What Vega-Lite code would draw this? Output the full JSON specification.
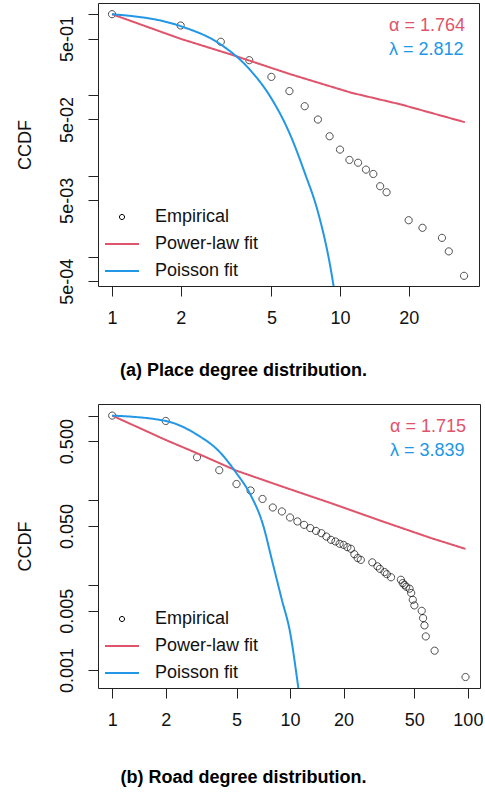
{
  "$schema": "https://vega.github.io/schema/vega-lite/v6.json",
  "background": "white",
  "padding": {"left": 15, "top": 2, "right": 0, "bottom": 0},
  "spacing": 22,
  "config": {
    "font": "Liberation Sans",
    "view": {"stroke": "#222222", "strokeWidth": 1},
    "axis": {
      "domain": false, "grid": false,
      "tickColor": "#222222", "tickSize": 10, "tickWidth": 1,
      "labelFont": "Liberation Sans", "labelFontSize": 18, "labelColor": "#111111",
      "labelOverlap": false, "labelFlush": false, "labelBound": false,
      "titleFont": "Liberation Sans", "titleFontSize": 18, "titleFontWeight": "normal", "titleColor": "#111111"
    },
    "legend": {"labelFont": "Liberation Sans", "labelColor": "#111111"},
    "title": {"font": "Liberation Sans", "fontSize": 18, "fontWeight": "bold", "color": "#000000"}
  },
  "resolve": {
    "scale": {"x": "independent", "y": "independent", "color": "independent", "shape": "independent", "strokeDash": "independent"},
    "legend": {"color": "independent", "shape": "independent", "strokeDash": "independent"}
  },
  "vconcat": [
    {
      "width": 381,
      "height": 283,
      "title": {"text": "(a) Place degree distribution.", "orient": "bottom", "anchor": "middle", "frame": "bounds", "offset": 35, "dx": -4},
      "encoding": {
        "x": {"field": "k", "type": "quantitative",
          "scale": {"type": "log", "domain": [0.868, 40.7], "nice": false, "zero": false},
          "axis": {"values": [1, 2, 5, 10, 20], "title": null, "labelPadding": 13, "labelExpr": "datum.value + ''"}},
        "y": {"field": "p", "type": "quantitative",
          "scale": {"type": "log", "domain": [0.000437, 1.375], "nice": false, "zero": false},
          "axis": {"values": [1, 0.5, 0.1, 0.05, 0.01, 0.005, 0.001, 0.0005], "title": "CCDF",
            "labelAngle": 270, "labelAlign": "center", "labelBaseline": "bottom", "labelPadding": 12, "titlePadding": 24,
            "labelExpr": "datum.value == 0.5 ? '5e-01' : datum.value == 0.05 ? '5e-02' : datum.value == 0.005 ? '5e-03' : datum.value == 0.0005 ? '5e-04' : ''"}},
        "color": {"field": "series", "type": "nominal",
          "scale": {"domain": ["Empirical", "Power-law fit", "Poisson fit"], "range": ["#000000", "#DF536B", "#2297E6"]},
          "legend": {"title": null, "orient": "bottom-left", "offset": 6, "padding": 0, "symbolSize": 1156, "labelFontSize": 18, "labelOffset": 15, "rowPadding": -11,
            "encode": {"symbols": {"update": {"strokeWidth": {"signal": "(datum.value === 'Empirical' ? 1 : 2)"}}}}}}
      },
      "layer": [
        {
          "data": {"values": [
            {"series": "Empirical", "k": 1, "p": 1},
            {"series": "Empirical", "k": 2, "p": 0.725},
            {"series": "Empirical", "k": 3, "p": 0.456},
            {"series": "Empirical", "k": 4, "p": 0.27},
            {"series": "Empirical", "k": 5, "p": 0.168},
            {"series": "Empirical", "k": 6, "p": 0.112},
            {"series": "Empirical", "k": 7, "p": 0.0729},
            {"series": "Empirical", "k": 8, "p": 0.0499},
            {"series": "Empirical", "k": 9, "p": 0.031},
            {"series": "Empirical", "k": 10, "p": 0.0212},
            {"series": "Empirical", "k": 11, "p": 0.0158},
            {"series": "Empirical", "k": 12, "p": 0.0146},
            {"series": "Empirical", "k": 13, "p": 0.012},
            {"series": "Empirical", "k": 14, "p": 0.0106},
            {"series": "Empirical", "k": 15, "p": 0.00748},
            {"series": "Empirical", "k": 16, "p": 0.0063},
            {"series": "Empirical", "k": 20, "p": 0.00284},
            {"series": "Empirical", "k": 23, "p": 0.00229},
            {"series": "Empirical", "k": 28, "p": 0.00172},
            {"series": "Empirical", "k": 30, "p": 0.00117},
            {"series": "Empirical", "k": 35, "p": 0.000584}
          ]},
          "mark": {"type": "point", "filled": false, "strokeWidth": 1, "size": 2300},
          "encoding": {
            "shape": {"field": "series", "type": "nominal",
              "scale": {"domain": ["Empirical", "Power-law fit", "Poisson fit"], "range": ["M0.15,0A0.15,0.15 0 1 1 -0.15,0A0.15,0.15 0 1 1 0.15,0Z", "stroke", "stroke"]}}
          }
        },
        {
          "data": {"values": [
            {"series": "Power-law fit", "param": "α = 1.764", "k": 1, "p": 1},
            {"series": "Power-law fit", "param": "α = 1.764", "k": 2, "p": 0.496},
            {"series": "Power-law fit", "param": "α = 1.764", "k": 3.32, "p": 0.318},
            {"series": "Power-law fit", "param": "α = 1.764", "k": 6.1, "p": 0.18},
            {"series": "Power-law fit", "param": "α = 1.764", "k": 11.2, "p": 0.107},
            {"series": "Power-law fit", "param": "α = 1.764", "k": 18.5, "p": 0.0766},
            {"series": "Power-law fit", "param": "α = 1.764", "k": 35.3, "p": 0.0462}
          ]},
          "mark": {"type": "line", "strokeWidth": 2, "clip": true},
          "encoding": {
            "strokeDash": {"field": "param", "type": "nominal",
              "scale": {"domain": ["α = 1.764", "λ = 2.812"], "range": [[1, 0], [1, 0]]},
              "legend": {"title": null, "orient": "top-right", "offset": 14, "padding": 0, "symbolSize": 0, "symbolOpacity": 0, "labelOffset": 0, "labelFontSize": 18, "rowPadding": 6,
                "encode": {"labels": {"update": {"fill": {"signal": "datum.index === 0 ? '#DF536B' : '#2297E6'"}}}}}}
          }
        },
        {
          "data": {"values": [
            {"series": "Poisson fit", "param": "λ = 2.812", "k": 1, "p": 1},
            {"series": "Poisson fit", "param": "λ = 2.812", "k": 2, "p": 0.711},
            {"series": "Poisson fit", "param": "λ = 2.812", "k": 3, "p": 0.422},
            {"series": "Poisson fit", "param": "λ = 2.812", "k": 4, "p": 0.21},
            {"series": "Poisson fit", "param": "λ = 2.812", "k": 5, "p": 0.091},
            {"series": "Poisson fit", "param": "λ = 2.812", "k": 6, "p": 0.034},
            {"series": "Poisson fit", "param": "λ = 2.812", "k": 7, "p": 0.011},
            {"series": "Poisson fit", "param": "λ = 2.812", "k": 8, "p": 0.0036},
            {"series": "Poisson fit", "param": "λ = 2.812", "k": 9, "p": 0.00085},
            {"series": "Poisson fit", "param": "λ = 2.812", "k": 10, "p": 0.00013}
          ]},
          "mark": {"type": "line", "strokeWidth": 2, "clip": true, "interpolate": "monotone"},
          "encoding": {
            "strokeDash": {"field": "param", "type": "nominal",
              "scale": {"domain": ["α = 1.764", "λ = 2.812"], "range": [[1, 0], [1, 0]]}}
          }
        }
      ]
    },
    {
      "width": 382,
      "height": 284,
      "title": {"text": "(b) Road degree distribution.", "orient": "bottom", "anchor": "middle", "frame": "bounds", "offset": 40, "dx": -6},
      "encoding": {
        "x": {"field": "k", "type": "quantitative",
          "scale": {"type": "log", "domain": [0.832, 117], "nice": false, "zero": false},
          "axis": {"values": [1, 2, 5, 10, 20, 50, 100], "title": null, "labelPadding": 13, "labelExpr": "datum.value + ''"}},
        "y": {"field": "p", "type": "quantitative",
          "scale": {"type": "log", "domain": [0.000614, 1.37], "nice": false, "zero": false},
          "axis": {"values": [1, 0.5, 0.1, 0.05, 0.01, 0.005, 0.001], "title": "CCDF",
            "labelAngle": 270, "labelAlign": "center", "labelBaseline": "bottom", "labelPadding": 12, "titlePadding": 24,
            "labelExpr": "datum.value == 0.5 ? '0.500' : datum.value == 0.05 ? '0.050' : datum.value == 0.005 ? '0.005' : datum.value == 0.001 ? '0.001' : ''"}},
        "color": {"field": "series", "type": "nominal",
          "scale": {"domain": ["Empirical", "Power-law fit", "Poisson fit"], "range": ["#000000", "#DF536B", "#2297E6"]},
          "legend": {"title": null, "orient": "bottom-left", "offset": 6, "padding": 0, "symbolSize": 1156, "labelFontSize": 18, "labelOffset": 15, "rowPadding": -11,
            "encode": {"symbols": {"update": {"strokeWidth": {"signal": "(datum.value === 'Empirical' ? 1 : 2)"}}}}}}
      },
      "layer": [
        {
          "data": {"values": [
            {"series": "Empirical", "k": 1, "p": 1},
            {"series": "Empirical", "k": 2, "p": 0.864},
            {"series": "Empirical", "k": 3, "p": 0.323},
            {"series": "Empirical", "k": 4, "p": 0.227},
            {"series": "Empirical", "k": 5, "p": 0.156},
            {"series": "Empirical", "k": 6, "p": 0.131},
            {"series": "Empirical", "k": 7, "p": 0.104},
            {"series": "Empirical", "k": 8, "p": 0.0825},
            {"series": "Empirical", "k": 9, "p": 0.0741},
            {"series": "Empirical", "k": 10, "p": 0.0629},
            {"series": "Empirical", "k": 11, "p": 0.0565},
            {"series": "Empirical", "k": 12, "p": 0.0515},
            {"series": "Empirical", "k": 13, "p": 0.0472},
            {"series": "Empirical", "k": 14, "p": 0.0437},
            {"series": "Empirical", "k": 15, "p": 0.0411},
            {"series": "Empirical", "k": 16, "p": 0.0375},
            {"series": "Empirical", "k": 17, "p": 0.0343},
            {"series": "Empirical", "k": 18, "p": 0.0328},
            {"series": "Empirical", "k": 19, "p": 0.0308},
            {"series": "Empirical", "k": 20, "p": 0.0299},
            {"series": "Empirical", "k": 21, "p": 0.0281},
            {"series": "Empirical", "k": 22, "p": 0.0269},
            {"series": "Empirical", "k": 23, "p": 0.0232},
            {"series": "Empirical", "k": 24, "p": 0.0209},
            {"series": "Empirical", "k": 25, "p": 0.0199},
            {"series": "Empirical", "k": 29, "p": 0.0186},
            {"series": "Empirical", "k": 31, "p": 0.0167},
            {"series": "Empirical", "k": 32, "p": 0.0156},
            {"series": "Empirical", "k": 34, "p": 0.0143},
            {"series": "Empirical", "k": 35, "p": 0.0135},
            {"series": "Empirical", "k": 37, "p": 0.0124},
            {"series": "Empirical", "k": 42, "p": 0.0116},
            {"series": "Empirical", "k": 43, "p": 0.0106},
            {"series": "Empirical", "k": 44, "p": 0.0101},
            {"series": "Empirical", "k": 45, "p": 0.0096},
            {"series": "Empirical", "k": 47, "p": 0.0091},
            {"series": "Empirical", "k": 48, "p": 0.0081},
            {"series": "Empirical", "k": 49, "p": 0.00673},
            {"series": "Empirical", "k": 50, "p": 0.00578},
            {"series": "Empirical", "k": 55, "p": 0.00499},
            {"series": "Empirical", "k": 56, "p": 0.00409},
            {"series": "Empirical", "k": 57, "p": 0.00336},
            {"series": "Empirical", "k": 58, "p": 0.00249},
            {"series": "Empirical", "k": 65, "p": 0.00169},
            {"series": "Empirical", "k": 97, "p": 0.000827}
          ]},
          "mark": {"type": "point", "filled": false, "strokeWidth": 1, "size": 2300},
          "encoding": {
            "shape": {"field": "series", "type": "nominal",
              "scale": {"domain": ["Empirical", "Power-law fit", "Poisson fit"], "range": ["M0.15,0A0.15,0.15 0 1 1 -0.15,0A0.15,0.15 0 1 1 0.15,0Z", "stroke", "stroke"]}}
          }
        },
        {
          "data": {"values": [
            {"series": "Power-law fit", "param": "α = 1.715", "k": 1, "p": 1},
            {"series": "Power-law fit", "param": "α = 1.715", "k": 2, "p": 0.516},
            {"series": "Power-law fit", "param": "α = 1.715", "k": 3, "p": 0.36},
            {"series": "Power-law fit", "param": "α = 1.715", "k": 5, "p": 0.224},
            {"series": "Power-law fit", "param": "α = 1.715", "k": 9, "p": 0.146},
            {"series": "Power-law fit", "param": "α = 1.715", "k": 17, "p": 0.0928},
            {"series": "Power-law fit", "param": "α = 1.715", "k": 32, "p": 0.058},
            {"series": "Power-law fit", "param": "α = 1.715", "k": 62, "p": 0.036},
            {"series": "Power-law fit", "param": "α = 1.715", "k": 97, "p": 0.0268}
          ]},
          "mark": {"type": "line", "strokeWidth": 2, "clip": true},
          "encoding": {
            "strokeDash": {"field": "param", "type": "nominal",
              "scale": {"domain": ["α = 1.715", "λ = 3.839"], "range": [[1, 0], [1, 0]]},
              "legend": {"title": null, "orient": "top-right", "offset": 14, "padding": 0, "symbolSize": 0, "symbolOpacity": 0, "labelOffset": 0, "labelFontSize": 18, "rowPadding": 6,
                "encode": {"labels": {"update": {"fill": {"signal": "datum.index === 0 ? '#DF536B' : '#2297E6'"}}}}}}
          }
        },
        {
          "data": {"values": [
            {"series": "Poisson fit", "param": "λ = 3.839", "k": 1, "p": 1},
            {"series": "Poisson fit", "param": "λ = 3.839", "k": 2, "p": 0.864},
            {"series": "Poisson fit", "param": "λ = 3.839", "k": 3, "p": 0.595},
            {"series": "Poisson fit", "param": "λ = 3.839", "k": 4, "p": 0.377},
            {"series": "Poisson fit", "param": "λ = 3.839", "k": 5, "p": 0.209},
            {"series": "Poisson fit", "param": "λ = 3.839", "k": 6, "p": 0.116},
            {"series": "Poisson fit", "param": "λ = 3.839", "k": 7, "p": 0.054},
            {"series": "Poisson fit", "param": "λ = 3.839", "k": 8, "p": 0.018},
            {"series": "Poisson fit", "param": "λ = 3.839", "k": 9, "p": 0.0067},
            {"series": "Poisson fit", "param": "λ = 3.839", "k": 10, "p": 0.0028},
            {"series": "Poisson fit", "param": "λ = 3.839", "k": 11, "p": 0.00074},
            {"series": "Poisson fit", "param": "λ = 3.839", "k": 12, "p": 0.00018}
          ]},
          "mark": {"type": "line", "strokeWidth": 2, "clip": true, "interpolate": "monotone"},
          "encoding": {
            "strokeDash": {"field": "param", "type": "nominal",
              "scale": {"domain": ["α = 1.715", "λ = 3.839"], "range": [[1, 0], [1, 0]]}}
          }
        }
      ]
    }
  ]
}
